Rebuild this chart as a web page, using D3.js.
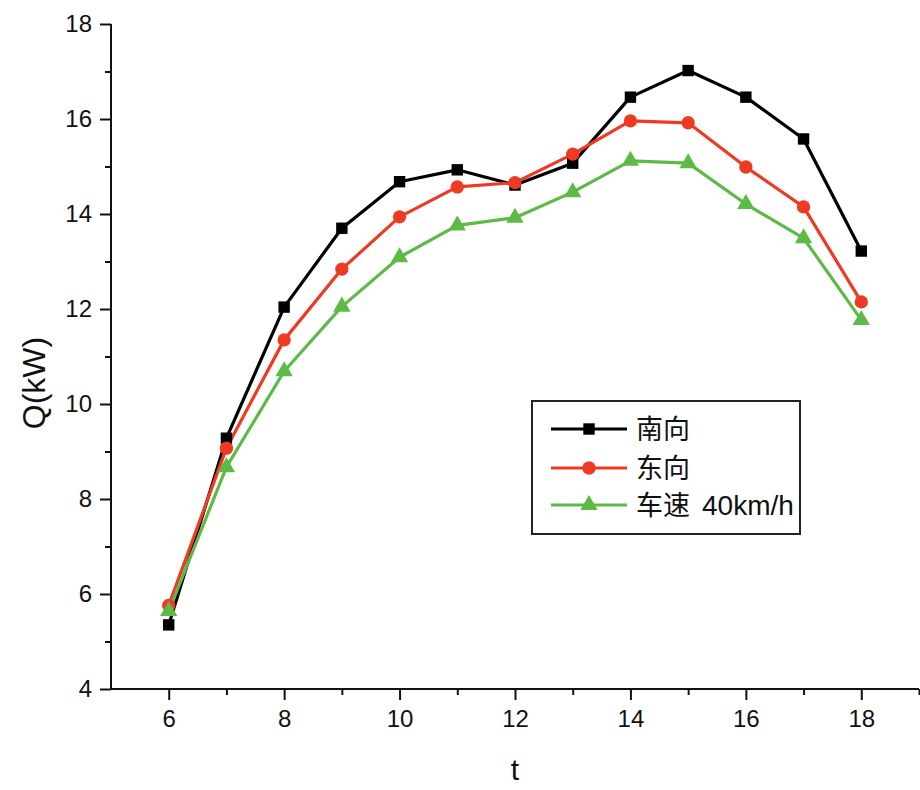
<!DOCTYPE html>
<html>
<head>
<meta charset="utf-8">
<script src="https://cdn.jsdelivr.net/npm/d3@7"></script>
<style>
  body { margin: 0; background: #fff; }
  svg { display: block; }
</style>
</head>
<body>
<svg id="chart"></svg>
<script>
// data
var hours = [6, 7, 8, 9, 10, 11, 12, 13, 14, 15, 16, 17, 18];
var south = [5.35, 9.28, 12.04, 13.7, 14.68, 14.93, 14.61, 15.07, 16.46, 17.02, 16.46, 15.58, 13.22];
var east  = [5.76, 9.07, 11.35, 12.84, 13.94, 14.57, 14.66, 15.26, 15.96, 15.92, 14.99, 14.15, 12.15];
var speed = [5.64, 8.67, 10.69, 12.05, 13.09, 13.76, 13.92, 14.46, 15.12, 15.07, 14.21, 13.49, 11.77];
var seriesNames = ["南向", "东向", "车速"];
var xTicks = [6, 8, 10, 12, 14, 16, 18];
var yTicks = [4, 6, 8, 10, 12, 14, 16, 18];

var width = 920, height = 790;
var svg = d3.select("#chart").attr("width", width).attr("height", height);

var x = d3.scaleLinear().domain([5, 19]).range([111, 919]);
var y = d3.scaleLinear().domain([4, 18]).range([689, 24]);

var font = "'Liberation Sans', Arial, sans-serif";

// y axis: minor ticks then major ticks with labels
var yAxis = svg.append("g").attr("transform", "translate(" + x(5) + ",0)");
yAxis.call(d3.axisLeft(y).tickValues(d3.range(5, 18, 2)).tickSize(6).tickFormat(""));
yAxis.append("g").call(d3.axisLeft(y).tickValues(yTicks).tickSize(11).tickPadding(8));
yAxis.selectAll("text").attr("font-size", "24px").attr("font-family", font).attr("fill", "#111");

// x axis
var xAxis = svg.append("g").attr("transform", "translate(0," + y(4) + ")");
xAxis.call(d3.axisBottom(x).tickValues(d3.range(7, 20, 2)).tickSize(6).tickFormat(""));
xAxis.append("g").call(d3.axisBottom(x).tickValues(xTicks).tickSize(11).tickPadding(10));
xAxis.selectAll("text").attr("font-size", "24px").attr("font-family", font).attr("fill", "#111");

svg.selectAll(".domain").attr("stroke", "#111").attr("stroke-width", 2);
svg.selectAll(".tick line").attr("stroke", "#111").attr("stroke-width", 2);
// plain axis lines without end caps
yAxis.selectAll(".domain").attr("d", "M0," + y(18) + "V" + y(4));
xAxis.selectAll(".domain").attr("d", "M" + x(5) + ",0H" + x(19));

// axis titles
svg.append("text").attr("x", 515).attr("y", 780).attr("text-anchor", "middle")
  .attr("font-family", font).attr("font-size", "30px").attr("fill", "#111").text("t");
svg.append("text").attr("transform", "translate(45,383) rotate(-90)").attr("text-anchor", "middle")
  .attr("font-family", font).attr("font-size", "32px").attr("fill", "#111").text("Q(kW)");

var series = [
  { name: seriesNames[0], values: south, color: "#000000", shape: d3.symbolSquare, size: 130 },
  { name: seriesNames[1], values: east, color: "#ee3a22", shape: d3.symbolCircle, size: 140 },
  { name: seriesNames[2], values: speed, color: "#5cba47", shape: d3.symbolTriangle, size: 130 }
];

var line = d3.line().x(function(d) { return x(d[0]); }).y(function(d) { return y(d[1]); });

series.forEach(function(s) {
  var pts = hours.map(function(h, i) { return [h, s.values[i]]; });
  svg.append("path").datum(pts).attr("d", line).attr("fill", "none")
    .attr("stroke", s.color).attr("stroke-width", 3.2).attr("stroke-linejoin", "round");
});
series.forEach(function(s) {
  var pts = hours.map(function(h, i) { return [h, s.values[i]]; });
  svg.selectAll(null).data(pts).enter().append("path")
    .attr("d", d3.symbol().type(s.shape).size(s.size))
    .attr("transform", function(d) { return "translate(" + x(d[0]) + "," + y(d[1]) + ")"; })
    .attr("fill", s.color);
});

// legend
var lg = svg.append("g");
lg.append("rect").attr("x", 532).attr("y", 401).attr("width", 268).attr("height", 133)
  .attr("fill", "#fff").attr("stroke", "#222").attr("stroke-width", 2);
var rowY = [429, 468, 505];
series.forEach(function(s, i) {
  lg.append("line").attr("x1", 551).attr("x2", 627).attr("y1", rowY[i]).attr("y2", rowY[i])
    .attr("stroke", s.color).attr("stroke-width", 3.2);
  lg.append("path").attr("d", d3.symbol().type(s.shape).size(s.size))
    .attr("transform", "translate(589," + rowY[i] + ")").attr("fill", s.color);
  var t = lg.append("text").attr("x", 636).attr("y", rowY[i] + 10)
    .attr("font-family", "'Noto Sans CJK SC', sans-serif").attr("font-size", "27px").attr("fill", "#111")
    .text(s.name);
  if (i === 2) {
    t.append("tspan").attr("x", 702).attr("font-family", font).attr("font-size", "28px").text("40km/h");
  }
});
</script>
</body>
</html>
